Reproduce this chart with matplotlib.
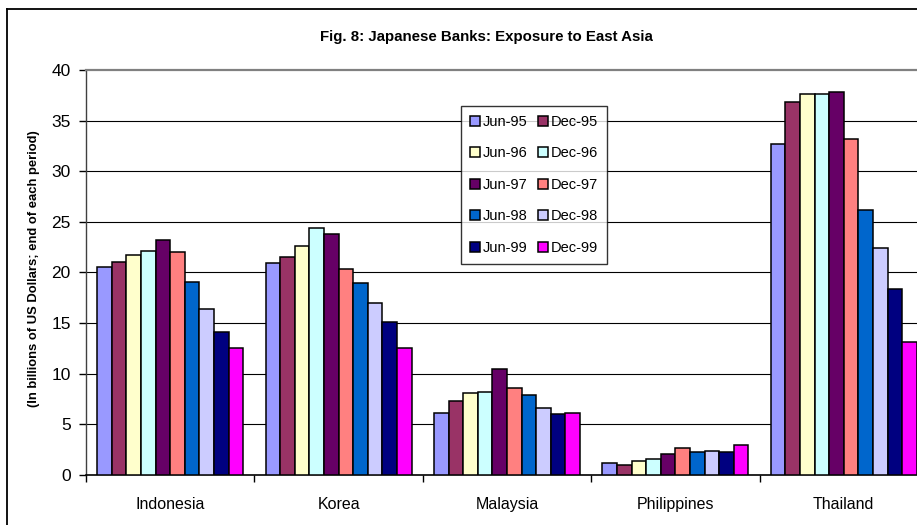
import matplotlib
matplotlib.use("Agg")
import matplotlib.pyplot as plt
import numpy as np
from matplotlib.lines import Line2D
from matplotlib.patches import Patch

plt.rcParams['font.family'] = ['Liberation Sans', 'DejaVu Sans']

categories = ["Indonesia", "Korea", "Malaysia", "Philippines", "Thailand"]
periods = ["Jun-95", "Dec-95", "Jun-96", "Dec-96", "Jun-97",
           "Dec-97", "Jun-98", "Dec-98", "Jun-99", "Dec-99"]
colors = ["#9999FF", "#993366", "#FFFFCC", "#CCFFFF", "#660066",
          "#FF8080", "#0066CC", "#CCCCFF", "#000080", "#FF00FF"]

indonesia = [20.55, 21.0, 21.68, 22.07, 23.19, 22.04, 19.04, 16.4, 14.07, 12.49]
korea = [20.89, 21.5, 22.57, 24.38, 23.78, 20.33, 18.97, 16.97, 15.06, 12.55]
malaysia = [6.07, 7.31, 8.10, 8.20, 10.47, 8.54, 7.88, 6.59, 6.03, 6.10]
philippines = [1.13, 0.99, 1.38, 1.55, 2.08, 2.60, 2.27, 2.33, 2.27, 2.92]
thailand = [32.68, 36.86, 37.62, 37.59, 37.79, 33.2, 26.13, 22.4, 18.32, 13.11]

data = np.array([indonesia, korea, malaysia, philippines, thailand])
yticks = [0, 5, 10, 15, 20, 25, 30, 35, 40]

W, H = 917, 525
fig = plt.figure(figsize=(W / 100, H / 100), dpi=100)
ax = fig.add_axes([86 / W, 50.3 / H, (928 - 86) / W, 404.7 / H])

x = np.arange(len(categories))
n = len(periods)
bw = 0.0867
for i, (p, c) in enumerate(zip(periods, colors)):
    ax.bar(x + (i - (n - 1) / 2) * bw, data[:, i], width=bw, color=c,
           edgecolor="black", linewidth=1.1, label=p, zorder=3)

ax.set_xlim(-0.5, len(categories) - 0.5)
ax.set_ylim(0, 40)
ax.set_yticks(yticks)
ax.set_yticklabels([str(v) for v in yticks], fontsize=12.5)
for v in yticks[1:-1]:
    ax.axhline(v, color="black", linewidth=0.8, zorder=1)

ax.set_xticks(x)
ax.set_xticklabels(categories, fontsize=11.5)
ax.tick_params(axis="x", which="major", length=0, pad=16)
ax.set_xticks(np.arange(-0.5, len(categories) + 0.5, 1), minor=True)
ax.tick_params(axis="x", which="minor", length=5, width=1, direction="out")
ax.tick_params(axis="y", length=5, width=1, direction="out", pad=6)

ax.spines["top"].set_color("#808080")
ax.spines["top"].set_linewidth(1.6)
ax.spines["right"].set_visible(False)
ax.spines["left"].set_color("#404040")
ax.spines["left"].set_linewidth(1.0)
ax.spines["bottom"].set_linewidth(1.2)

fig.text(486 / W, 1 - 37 / H, "Fig. 8: Japanese Banks: Exposure to East Asia",
         ha="center", va="center", fontsize=10.8, fontweight="bold")
fig.text(34 / W, 1 - 269 / H, "(In billions of US Dollars; end of each period)",
         ha="center", va="center", rotation=90, fontsize=9.4, fontweight="bold")

# legend: Jun entries in left column, Dec entries in right column
order = [0, 2, 4, 6, 8, 1, 3, 5, 7, 9]
handles = [Patch(facecolor=colors[k], edgecolor="black", linewidth=1.1) for k in order]
labels = [periods[k] for k in order]
leg = ax.legend(handles, labels, ncol=2, loc="upper left",
                bbox_to_anchor=((461 - 86) / (928 - 86), (474.7 - 106) / 404.7),
                fontsize=10.5, frameon=True, fancybox=False, shadow=False,
                handlelength=0.7, handleheight=0.7, handletextpad=0.2,
                columnspacing=0.7, labelspacing=1.2, borderpad=0.6,
                edgecolor="black", borderaxespad=0)
leg.get_frame().set_linewidth(1.0)
leg.set_zorder(5)

# outer chart frame (partially visible)
fig.add_artist(Line2D([7 / W, 7 / W], [0, 1 - 9 / H], transform=fig.transFigure,
                      color="black", linewidth=1.3))
fig.add_artist(Line2D([7 / W, 1], [1 - 9 / H, 1 - 9 / H], transform=fig.transFigure,
                      color="black", linewidth=1.3))

fig.savefig("out.png", dpi=100)
